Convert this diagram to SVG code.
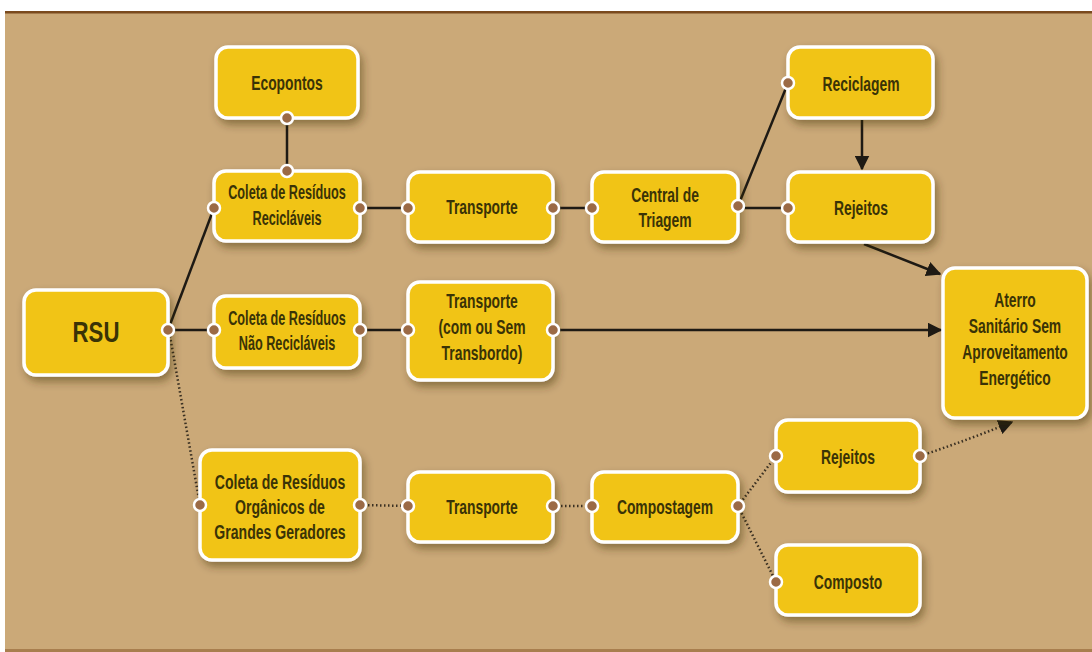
<svg xmlns="http://www.w3.org/2000/svg" width="1092" height="652" viewBox="0 0 1092 652">
<defs>
<style>
.box{fill:#F1C418;stroke:#FFFFFF;stroke-width:3.5}
.lbl{font-family:"Liberation Sans",Arial,sans-serif;font-weight:bold;font-size:21px;fill:#3A3306;text-anchor:middle}
.sm{font-size:19.5px}
.big{font-size:30px}
.dot{fill:#9B6A45;stroke:#FFFFFF;stroke-width:2.5}
.ln{fill:none;stroke:#1E1A14;stroke-width:2.5}
.dt{fill:none;stroke:#3A3022;stroke-width:2.5;stroke-dasharray:1.5 2.5}
</style>
<filter id="sh" x="-20%" y="-20%" width="150%" height="160%">
<feDropShadow dx="3" dy="5" stdDeviation="4" flood-color="#3a2a10" flood-opacity="0.45"/>
</filter>
<marker id="ar" viewBox="0 0 10 10" refX="9" refY="5" markerWidth="6" markerHeight="6" markerUnits="strokeWidth" orient="auto">
<path d="M0,0 L10,5 L0,10 z" fill="#1E1A14"/>
</marker>
</defs>
<rect x="0" y="0" width="1092" height="652" fill="#FFFFFF"/>
<rect x="5" y="12" width="1087" height="640" fill="#CBA978"/>
<rect x="5" y="11" width="1087" height="2.5" fill="#7A4A1E"/>
<rect x="5" y="649" width="1087" height="3" fill="#A87E4E"/>

<g id="connectors">
<line class="ln" x1="287" y1="118" x2="287" y2="171"/>
<line class="ln" x1="168" y1="330" x2="214" y2="208"/>
<line class="ln" x1="168" y1="330" x2="214" y2="330"/>
<path class="dt" d="M170,336 L200,505"/>
<line class="ln" x1="360" y1="208" x2="408" y2="208"/>
<line class="ln" x1="553" y1="208" x2="592" y2="208"/>
<line class="ln" x1="738" y1="206" x2="788" y2="83"/>
<line class="ln" x1="738" y1="208" x2="788" y2="208"/>
<line class="ln" x1="862" y1="120" x2="862" y2="169" marker-end="url(#ar)"/>
<line class="ln" x1="864" y1="244" x2="940" y2="274" marker-end="url(#ar)"/>
<line class="ln" x1="360" y1="330" x2="408" y2="330"/>
<line class="ln" x1="553" y1="330" x2="941" y2="330" marker-end="url(#ar)"/>
<line class="dt" x1="360" y1="505" x2="408" y2="506"/>
<line class="dt" x1="553" y1="506" x2="592" y2="506"/>
<line class="dt" x1="738" y1="506" x2="776" y2="456"/>
<line class="dt" x1="738" y1="506" x2="776" y2="582"/>
<path class="dt" d="M920,456 Q968,440 1012,422" marker-end="url(#ar)"/>
</g>

<g id="ecopontos">
<rect class="box" filter="url(#sh)" x="216" y="47" width="142" height="71" rx="12"/>
<text class="lbl" transform="translate(287,90) scale(0.66,1)">Ecopontos</text>
<circle class="dot" cx="287" cy="118" r="6"/>
</g>

<g id="coleta-reciclaveis">
<rect class="box" filter="url(#sh)" x="214" y="171" width="146" height="70" rx="12"/>
<text class="lbl sm" transform="translate(287,199) scale(0.65,1)">Coleta de Resíduos</text>
<text class="lbl sm" transform="translate(287,225) scale(0.65,1)">Recicláveis</text>
<circle class="dot" cx="287" cy="171" r="6"/>
<circle class="dot" cx="214" cy="208" r="6"/>
<circle class="dot" cx="360" cy="208" r="6"/>
</g>

<g id="transporte-1">
<rect class="box" filter="url(#sh)" x="408" y="172" width="145" height="70" rx="12"/>
<text class="lbl" transform="translate(482,214) scale(0.66,1)">Transporte</text>
<circle class="dot" cx="408" cy="208" r="6"/>
<circle class="dot" cx="553" cy="208" r="6"/>
</g>

<g id="central-triagem">
<rect class="box" filter="url(#sh)" x="592" y="172" width="146" height="70" rx="12"/>
<text class="lbl" transform="translate(665,202) scale(0.66,1)">Central de</text>
<text class="lbl" transform="translate(665,227) scale(0.66,1)">Triagem</text>
<circle class="dot" cx="592" cy="208" r="6"/>
<circle class="dot" cx="738" cy="206" r="6"/>
</g>

<g id="reciclagem">
<rect class="box" filter="url(#sh)" x="788" y="47" width="145" height="71" rx="12"/>
<text class="lbl" transform="translate(861,91) scale(0.66,1)">Reciclagem</text>
<circle class="dot" cx="788" cy="83" r="6"/>
</g>

<g id="rejeitos-1">
<rect class="box" filter="url(#sh)" x="788" y="172" width="145" height="70" rx="12"/>
<text class="lbl" transform="translate(861,215) scale(0.66,1)">Rejeitos</text>
<circle class="dot" cx="788" cy="208" r="6"/>
</g>

<g id="rsu">
<rect class="box" filter="url(#sh)" x="24" y="290" width="144" height="85" rx="12"/>
<text class="lbl big" transform="translate(96,342) scale(0.74,1)">RSU</text>
<circle class="dot" cx="168" cy="330" r="6"/>
</g>

<g id="coleta-nao-reciclaveis">
<rect class="box" filter="url(#sh)" x="214" y="296" width="146" height="72" rx="12"/>
<text class="lbl sm" transform="translate(287,325) scale(0.65,1)">Coleta de Resíduos</text>
<text class="lbl sm" transform="translate(287,350) scale(0.65,1)">Não Recicláveis</text>
<circle class="dot" cx="214" cy="330" r="6"/>
<circle class="dot" cx="360" cy="330" r="6"/>
</g>

<g id="transporte-2">
<rect class="box" filter="url(#sh)" x="408" y="282" width="145" height="98" rx="12"/>
<text class="lbl" transform="translate(482,308) scale(0.66,1)">Transporte</text>
<text class="lbl" transform="translate(482,334) scale(0.66,1)">(com ou Sem</text>
<text class="lbl" transform="translate(482,360) scale(0.66,1)">Transbordo)</text>
<circle class="dot" cx="408" cy="330" r="6"/>
<circle class="dot" cx="553" cy="330" r="6"/>
</g>

<g id="aterro">
<rect class="box" filter="url(#sh)" x="943" y="268" width="144" height="150" rx="12"/>
<text class="lbl" transform="translate(1015,307) scale(0.66,1)">Aterro</text>
<text class="lbl" transform="translate(1015,333) scale(0.66,1)">Sanitário Sem</text>
<text class="lbl" transform="translate(1015,359) scale(0.66,1)">Aproveitamento</text>
<text class="lbl" transform="translate(1015,385) scale(0.66,1)">Energético</text>
</g>

<g id="coleta-organicos">
<rect class="box" filter="url(#sh)" x="200" y="450" width="160" height="110" rx="12"/>
<text class="lbl" transform="translate(280,489) scale(0.67,1)">Coleta de Resíduos</text>
<text class="lbl" transform="translate(280,514) scale(0.67,1)">Orgânicos de</text>
<text class="lbl" transform="translate(280,539) scale(0.67,1)">Grandes Geradores</text>
<circle class="dot" cx="200" cy="505" r="6"/>
<circle class="dot" cx="360" cy="505" r="6"/>
</g>

<g id="transporte-3">
<rect class="box" filter="url(#sh)" x="408" y="472" width="145" height="70" rx="12"/>
<text class="lbl" transform="translate(482,514) scale(0.66,1)">Transporte</text>
<circle class="dot" cx="408" cy="506" r="6"/>
<circle class="dot" cx="553" cy="506" r="6"/>
</g>

<g id="compostagem">
<rect class="box" filter="url(#sh)" x="592" y="472" width="146" height="70" rx="12"/>
<text class="lbl" transform="translate(665,514) scale(0.66,1)">Compostagem</text>
<circle class="dot" cx="592" cy="506" r="6"/>
<circle class="dot" cx="738" cy="506" r="6"/>
</g>

<g id="rejeitos-2">
<rect class="box" filter="url(#sh)" x="776" y="420" width="144" height="72" rx="12"/>
<text class="lbl" transform="translate(848,464) scale(0.66,1)">Rejeitos</text>
<circle class="dot" cx="776" cy="456" r="6"/>
<circle class="dot" cx="920" cy="456" r="6"/>
</g>

<g id="composto">
<rect class="box" filter="url(#sh)" x="776" y="545" width="144" height="70" rx="12"/>
<text class="lbl" transform="translate(848,589) scale(0.66,1)">Composto</text>
<circle class="dot" cx="776" cy="582" r="6"/>
</g>
</svg>
